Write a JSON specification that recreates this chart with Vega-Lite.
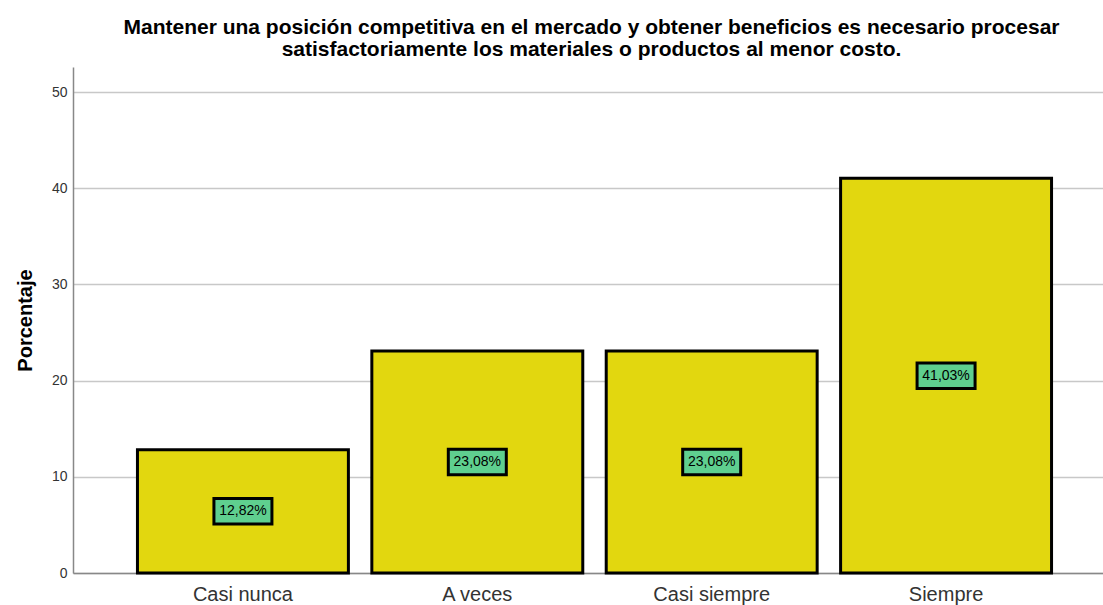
{
  "$schema": "https://vega.github.io/schema/vega-lite/v6.json",
  "autosize": "none",
  "padding": {"left": 73, "top": 67, "right": 0, "bottom": 32},
  "width": 1043,
  "height": 506,
  "background": "white",
  "title": {
    "text": ["Mantener una posición competitiva en el mercado y  obtener beneficios es necesario procesar", "satisfactoriamente los materiales o productos al menor costo."],
    "font": "Liberation Sans",
    "fontSize": 21,
    "fontWeight": "bold",
    "color": "#000000",
    "anchor": "middle",
    "lineHeight": 22,
    "offset": 7,
    "dx": -3
  },
  "data": {
    "values": [
      {"cat": "Casi nunca", "pct": 12.82, "label": "12,82%"},
      {"cat": "A veces", "pct": 23.08, "label": "23,08%"},
      {"cat": "Casi siempre", "pct": 23.08, "label": "23,08%"},
      {"cat": "Siempre", "pct": 41.03, "label": "41,03%"}
    ]
  },
  "encoding": {
    "x": {
      "field": "cat",
      "type": "nominal",
      "sort": null,
      "scale": {"paddingInner": 0.1, "paddingOuter": 0.275},
      "axis": {
        "title": null,
        "labelAngle": 0,
        "labelFont": "Liberation Sans",
        "labelFontSize": 20,
        "labelColor": "#333333",
        "labelPadding": 11,
        "ticks": false,
        "domainColor": "#888888",
        "domainWidth": 1.5,
        "grid": false
      }
    }
  },
  "layer": [
    {
      "mark": {"type": "bar", "color": "#e2d70f", "stroke": "#000000", "strokeWidth": 3},
      "encoding": {
        "y": {
          "field": "pct",
          "type": "quantitative",
          "scale": {"domain": [0, 52.6], "nice": false},
          "axis": {
            "title": "Porcentaje",
            "titleFont": "Liberation Sans",
            "titleFontSize": 20,
            "titleFontWeight": "bold",
            "titleColor": "#000000",
            "titlePadding": 16,
            "values": [0, 10, 20, 30, 40, 50],
            "labelFont": "Liberation Sans",
            "labelFontSize": 14,
            "labelColor": "#333333",
            "labelPadding": 6,
            "ticks": false,
            "domainColor": "#888888",
            "domainWidth": 1.5,
            "grid": true,
            "gridColor": "#c8c8c8",
            "gridWidth": 1.5
          }
        }
      }
    },
    {
      "transform": [{"calculate": "datum.pct / 2", "as": "mid"}],
      "mark": {
        "type": "point",
        "shape": "M-1,-0.44L1,-0.44L1,0.44L-1,0.44Z",
        "size": 3364,
        "filled": true,
        "fill": "#5fcf8f",
        "stroke": "#000000",
        "strokeWidth": 3,
        "opacity": 1
      },
      "encoding": {
        "y": {"field": "mid", "type": "quantitative"}
      }
    },
    {
      "transform": [{"calculate": "datum.pct / 2", "as": "mid"}],
      "mark": {
        "type": "text",
        "font": "Liberation Sans",
        "fontSize": 14,
        "color": "#000000",
        "baseline": "middle",
        "align": "center"
      },
      "encoding": {
        "y": {"field": "mid", "type": "quantitative"},
        "text": {"field": "label"}
      }
    }
  ],
  "config": {"view": {"stroke": null}}
}
